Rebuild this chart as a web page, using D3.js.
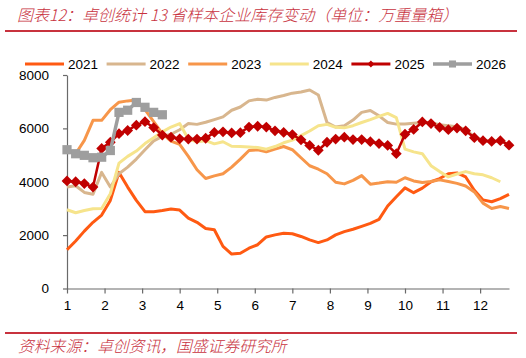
<!DOCTYPE html>
<html><head><meta charset="utf-8">
<script src="https://cdn.jsdelivr.net/npm/d3@7"></script>
<style>body{margin:0;background:#fff}</style>
</head><body><svg id="c" width="526" height="358"></svg>
<script>
// ---- data ----
const monthLabels = ["1","2","3","4","5","6","7","8","9","10","11","12"];
const yTicks = [0, 2000, 4000, 6000, 8000];
const seriesNames = ["2021","2022","2023","2024","2025","2026"];
const s2021 = [1450,1780,2150,2480,2750,3300,4350,3800,3300,2880,2880,2920,2980,2940,2640,2480,2250,2200,1580,1290,1320,1510,1640,1930,2010,2070,2050,1950,1820,1720,1820,2010,2130,2220,2330,2440,2590,3090,3440,3770,3590,3760,4000,4120,4300,4330,4180,3680,3320,3250,3370,3530];
const s2022 = [3800,3850,3600,3530,4350,3800,4300,4550,4850,5200,5530,5700,5780,5950,6180,6150,6230,6330,6430,6680,6800,7030,7090,7060,7160,7230,7320,7360,7440,7250,6220,6050,6100,6310,6600,6670,6470,6220,6160,6160,6190,6220,6200,6140,6100,6060,5950,5680,5560,5520,5540,5390];
const s2023 = [5150,5050,5550,6300,6300,6700,6980,7030,7060,6700,6250,5800,5520,5400,4950,4450,4120,4220,4300,4550,4850,5170,5200,5120,5220,5320,5200,4900,4600,4470,4300,3980,3920,4050,4230,3910,3950,4000,3980,4150,4030,3970,4010,4070,4010,3940,3840,3620,3200,3000,3070,3000];
const s2024 = [2950,2840,2920,2990,3000,3550,4700,4950,5150,5430,5650,5870,6050,6180,5600,5500,5540,5420,5500,5330,5320,5300,5280,5220,5320,5460,5560,5730,5900,6100,6150,6040,6020,6100,6220,6330,6450,6560,6400,5220,5120,5050,4600,4380,4180,4290,4380,4300,4260,4150,4000];
const s2025 = [4030,4000,3930,3800,5250,5480,5800,5920,6120,6250,6030,5750,5670,5610,5600,5600,5630,5850,5870,5830,5840,6050,6080,6050,5910,5850,5770,5570,5360,5180,5480,5600,5670,5580,5580,5500,5430,5360,5050,5780,5960,6240,6180,6040,5950,6010,5910,5650,5540,5510,5540,5370];
const s2026 = [5200,5050,4990,4900,4920,5170,6600,6680,6970,6790,6600,6510];
const titleText = "图表12：卓创统计 13 省样本企业库存变动（单位：万重量箱）";
const sourceText = "资料来源：卓创资讯，国盛证券研究所";

// ---- styles ----
const colors = ["#FF5A12","#D8B68E","#F7964A","#F6E48C","#C00000","#9E9E9E"];
const widths = [3,3,3,3,2.5,3.5];
const allSeries = [s2021,s2022,s2023,s2024,s2025,s2026];

const W = 526, H = 358;
const svg = d3.select("#c");
svg.append("rect").attr("width", W).attr("height", H).attr("fill", "#fff");

const nWeeks = 52;
const x = d3.scaleLinear().domain([0, nWeeks - 1]).range([67, 509]);
const xm = d3.scaleLinear().domain([1, 1 + (nWeeks - 1) * 12 / nWeeks]).range([67, 509]);
const y = d3.scaleLinear().domain([0, 8000]).range([288.5, 75]);

const red = "#C8323E";
// title
svg.append("text").attr("x", 17).attr("y", 14).attr("dominant-baseline", "central")
  .attr("font-family", "'Noto Sans CJK SC', sans-serif").attr("font-style", "italic")
  .attr("font-weight", 300).attr("font-size", 16).attr("fill", red).text(titleText);
svg.append("line").attr("x1", 5).attr("x2", 517).attr("y1", 31).attr("y2", 31)
  .attr("stroke", red).attr("stroke-width", 2);
svg.append("line").attr("x1", 5).attr("x2", 517).attr("y1", 333).attr("y2", 333)
  .attr("stroke", red).attr("stroke-width", 2);
svg.append("text").attr("x", 18).attr("y", 345).attr("dominant-baseline", "central")
  .attr("font-family", "'Noto Sans CJK SC', sans-serif").attr("font-style", "italic")
  .attr("font-weight", 300).attr("font-size", 15.8).attr("fill", red).text(sourceText);

const axisFont = "'Liberation Sans', Arial, sans-serif";
const axisColor = "#6a6a6a";

// y axis
const gy = svg.append("g").attr("transform", "translate(67,0)")
  .call(d3.axisLeft(y).tickValues(yTicks).tickSize(4).tickSizeOuter(0).tickPadding(14).tickFormat(d3.format("d")));
// x axis
const gx = svg.append("g").attr("transform", "translate(0,288.5)")
  .call(d3.axisBottom(xm).tickValues(d3.range(1, 13)).tickSize(5).tickSizeOuter(0).tickPadding(6.5)
    .tickFormat((d, i) => monthLabels[i]));
[gx, gy].forEach(g => {
  g.selectAll("path,line").attr("stroke", axisColor).attr("stroke-width", 1.2);
  g.selectAll("text").attr("font-family", axisFont).attr("font-size", 13.5).attr("fill", "#000");
});

// lines
const line = d3.line().x((d, i) => x(i)).y(d => y(d));
allSeries.forEach((s, k) => {
  svg.append("path").datum(s).attr("d", line).attr("fill", "none")
    .attr("stroke", colors[k]).attr("stroke-width", widths[k]).attr("stroke-linejoin", "round");
  if (k === 4) {
    svg.append("g").selectAll("path").data(s).join("path")
      .attr("d", d3.symbol(d3.symbolSquare, 58)())
      .attr("transform", (d, i) => `translate(${x(i)},${y(d)}) rotate(45)`)
      .attr("fill", colors[k]);
  }
  if (k === 5) {
    svg.append("g").selectAll("path").data(s).join("path")
      .attr("d", d3.symbol(d3.symbolSquare, 85)())
      .attr("transform", (d, i) => `translate(${x(i)},${y(d)})`)
      .attr("fill", colors[k]);
  }
});

// legend
const lg = svg.append("g");
seriesNames.forEach((name, k) => {
  const x0 = 25 + k * 81.6, ly = 64;
  lg.append("line").attr("x1", x0).attr("x2", x0 + 39).attr("y1", ly).attr("y2", ly)
    .attr("stroke", colors[k]).attr("stroke-width", k === 5 ? 3.5 : 3);
  if (k === 4) lg.append("path").attr("d", d3.symbol(d3.symbolSquare, 24)())
    .attr("transform", `translate(${x0 + 19.5},${ly}) rotate(45)`).attr("fill", colors[k]);
  if (k === 5) lg.append("path").attr("d", d3.symbol(d3.symbolSquare, 50)())
    .attr("transform", `translate(${x0 + 19.5},${ly})`).attr("fill", colors[k]);
  lg.append("text").attr("x", x0 + 43).attr("y", ly).attr("dominant-baseline", "central")
    .attr("font-family", axisFont).attr("font-size", 13.5).attr("fill", "#000").text(name);
});
</script></body></html>
